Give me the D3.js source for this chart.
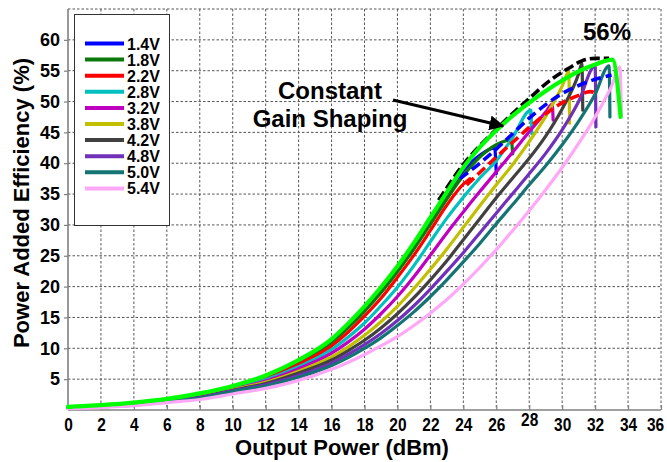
<!DOCTYPE html>
<html><head><meta charset="utf-8">
<script src="https://cdn.jsdelivr.net/npm/d3@7"></script>
<style>
body{margin:0;background:#fff}
svg{display:block}
text{font-family:"Liberation Sans",Arial,Helvetica,sans-serif;font-weight:bold;fill:#000}
</style>
</head><body>
<svg id="chart" width="667" height="462"></svg>
<script>
// ---- data ----
const xTicks = [0,2,4,6,8,10,12,14,16,18,20,22,24,26,28,30,32,34,36];
const yTicks = [5,10,15,20,25,30,35,40,45,50,55,60];
const legendLabels = ["1.4V","1.8V","2.2V","2.8V","3.2V","3.8V","4.2V","4.8V","5.0V","5.4V"];

// [Pout dBm, PAE %]
const s14 = [[0,0.5],[2,0.7],[4,1.1],[6,1.7],[8,2.6],[10,3.8],[12,5.5],[14,8.0],[16,11.3],[17,13.8],[18,16.6],[19,19.7],[20,23.1],[21,26.9],[22,31],[23,35],[24,38.8],[25,41.3],[25.9,42.5],[26.0,38.3]];
const s18 = [[0,0.5],[2,0.7],[4,1.1],[6,1.7],[8,2.5],[10,3.7],[12,5.3],[14,7.7],[16,10.9],[17,13.3],[18,16.0],[19,19.0],[20,22.4],[21,26.1],[22,30.1],[23,34.2],[24,38],[25,41],[26,43],[26.9,43.8],[27.0,41.5]];
const s22 = [[0,0.5],[2,0.7],[4,1.1],[6,1.7],[8,2.5],[10,3.6],[12,5.1],[14,7.4],[16,10.4],[17,12.6],[18,15.2],[19,18.1],[20,21.5],[21,25.1],[22,29.1],[23,33.2],[24,36.6],[24.4,37.5]];
const s28 = [[0,0.5],[2,0.7],[4,1.1],[6,1.6],[8,2.4],[10,3.5],[12,4.9],[14,7.0],[16,9.8],[17,11.8],[18,14.1],[19,16.9],[20,19.9],[21,23.4],[22,27.3],[23,31.1],[24,34.5],[25,37.6],[26,40.4],[27,44.2],[28.1,48.6],[28.15,44.8]];
const s32 = [[0,0.4],[2,0.6],[4,1.0],[6,1.6],[8,2.3],[10,3.4],[12,4.7],[14,6.7],[16,9.2],[17,11.0],[18,13.1],[19,15.6],[20,18.4],[21,21.6],[22,25.1],[23,28.7],[24,32.1],[25,35.4],[26,38.6],[27,41.8],[28,45.1],[29,48.3],[29.4,49.6],[29.45,47]];
const s38 = [[0,0.4],[2,0.6],[4,1.0],[6,1.5],[8,2.2],[10,3.3],[12,4.5],[14,6.3],[16,8.6],[17,10.2],[18,12.1],[19,14.3],[20,16.8],[21,19.7],[22,22.8],[23,26.1],[24,29.6],[25,33.1],[26,36.5],[27,39.8],[28,43.5],[29,47.6],[30,52.5],[30.4,54.8],[30.45,46.5]];
const s42 = [[0,0.4],[2,0.6],[4,0.9],[6,1.4],[8,2.1],[10,3.2],[12,4.3],[14,6.0],[16,8.1],[17,9.6],[18,11.3],[19,13.3],[20,15.6],[21,18.2],[22,21.1],[23,24.2],[24,27.6],[25,31],[26,34.4],[27,37.6],[28,40.8],[29,44.4],[30,48.8],[31,54.5],[31.2,56.2],[31.25,48.6]];
const s48 = [[0,0.3],[2,0.5],[4,0.9],[6,1.4],[8,2.0],[10,3.1],[12,4.1],[14,5.6],[16,7.6],[17,9.0],[18,10.6],[19,12.4],[20,14.5],[21,16.9],[22,19.6],[23,22.5],[24,25.5],[25,28.7],[26,31.9],[27,35.1],[28,38.3],[29,41.6],[30,45.4],[31,50.0],[32,55.8],[32.05,45.9]];
const s50 = [[0,0.3],[2,0.5],[4,0.8],[6,1.3],[8,1.9],[10,3.0],[12,3.9],[14,5.3],[16,7.2],[17,8.5],[18,10.0],[19,11.7],[20,13.7],[21,15.9],[22,18.4],[23,21.1],[24,24.0],[25,27.0],[26,30.2],[27,33.3],[28,36.5],[29,39.6],[30,43.0],[31,46.8],[32,51.2],[32.85,55.8],[32.9,47.5]];
const s54 = [[0,0.2],[2,0.4],[4,0.7],[6,1.2],[8,1.7],[10,2.6],[12,3.5],[14,4.8],[16,6.6],[17,7.7],[18,9.0],[19,10.4],[20,11.9],[21,13.7],[22,15.7],[23,17.9],[24,20.4],[25,23.1],[26,26],[27,29.1],[28,32.3],[29,35.7],[30,39.3],[31,43.2],[32,47.5],[33,52.5],[33.5,55.6],[33.6,47.8]];

// constant gain shaping envelope (bright green) and dashed traces
const envGreen = [[0,0.5],[2,0.8],[4,1.2],[6,1.8],[8,2.7],[10,3.9],[12,5.6],[14,8.1],[16,11.5],[17,14.0],[18,16.8],[19,19.9],[20,23.3],[21,27.1],[22,31.2],[23,35.3],[24,39.3],[25,42.6],[26,45.3],[27,47.7],[28,49.8],[29,51.7],[30,53.4],[31,54.9],[32,56.0],[33.05,56.8],[33.55,47.5]];
const dashBlack = [[22.5,34],[24.0,39.8],[26.0,45.5],[28.0,50.5],[29.3,53.5],[30.4,55.4],[31.2,56.6],[32.0,57],[32.85,57]];
const dashBlue = [[23.8,37.5],[25,40],[26,42.3],[27,44.8],[28,47.3],[29,49.5],[30,51.3],[31,52.6],[32,53.6],[33,54.3]];
const dashRed = [[24.2,36.5],[25,38.5],[26,41],[27,43.4],[28,45.8],[29,48],[30,49.8],[31,51],[31.7,51.6],[32.2,51.2]];

const seriesData = [s14,s18,s22,s28,s32,s38,s42,s48,s50,s54];
const seriesColors = ["#0000ff","#0a780a","#ff0000","#00c0c0","#c000c0","#c0c000","#404040","#7030b8","#147474","#ffa8f8"];

// ---- drawing ----
const svg = d3.select("#chart");
const x = d3.scaleLinear().domain([0,36]).range([68,661]);
const y = d3.scaleLinear().domain([0,65]).range([410,9]);

// grid
const grid = svg.append("g").attr("stroke","#555").attr("stroke-width",1).attr("stroke-dasharray","2.5,2");
grid.selectAll("line.v").data(xTicks.filter(d=>d>0)).enter().append("line")
  .attr("x1",d=>x(d)).attr("x2",d=>x(d)).attr("y1",y(65)).attr("y2",y(0));
grid.selectAll("line.h").data(yTicks.concat([65])).enter().append("line")
  .attr("x1",x(0)).attr("x2",x(36)).attr("y1",d=>y(d)).attr("y2",d=>y(d));

// axes
const yAxis = svg.append("g").attr("transform",`translate(${x(0)},0)`)
  .call(d3.axisLeft(y).tickValues(yTicks).tickSize(4).tickPadding(4));
const xAxis = svg.append("g").attr("transform",`translate(0,${y(0)})`)
  .call(d3.axisBottom(x).tickValues(xTicks).tickSize(-5).tickPadding(8));
[yAxis,xAxis].forEach(a=>{
  a.select(".domain").attr("stroke","#808080").attr("stroke-width",1.6);
  a.selectAll(".tick line").attr("stroke","#808080").attr("stroke-width",1.2);
  a.selectAll("text").attr("font-size","18px").attr("font-family","'Liberation Sans',Arial,sans-serif").attr("font-weight","bold").attr("fill","#000");
});
yAxis.select(".domain").attr("d",`M0,${y(65)}V${y(0)}`);
xAxis.select(".domain").attr("d",`M${x(0)},0H${x(36)}`);
xAxis.selectAll(".tick text")
  .attr("transform",d=> (d===28 ? "translate(0,-5) " : "") + (d===36 ? "translate(-6,0) " : "") + "scale(0.86,1)");

// curves
const line = d3.line().x(d=>x(d[0])).y(d=>y(d[1])).curve(d3.curveMonotoneX);
const curves = svg.append("g").attr("fill","none").attr("stroke-linejoin","round").attr("stroke-linecap","round");
seriesData.forEach((s,i)=>{
  curves.append("path").attr("d",line(s)).attr("stroke",seriesColors[i]).attr("stroke-width",3.2);
});
curves.append("path").attr("d",line(dashRed)).attr("stroke","#ff0000").attr("stroke-width",3.6).attr("stroke-dasharray","10,5").attr("stroke-linecap","butt");
curves.append("path").attr("d",line(dashBlue)).attr("stroke","#0000ff").attr("stroke-width",3.6).attr("stroke-dasharray","10,5").attr("stroke-linecap","butt");
curves.append("path").attr("d",line(dashBlack)).attr("stroke","#000").attr("stroke-width",3.6).attr("stroke-dasharray","10,4").attr("stroke-linecap","butt");
curves.append("path").attr("d",line(envGreen)).attr("stroke","#00ff00").attr("stroke-width",4.2);

// legend
const lg = svg.append("g");
lg.append("rect").attr("x",74.5).attr("y",14.5).attr("width",95).attr("height",211)
  .attr("fill","#fff").attr("stroke","#333").attr("stroke-width",1);
legendLabels.forEach((t,i)=>{
  const yy = 43.5 + i*16.1;
  lg.append("line").attr("x1",85).attr("x2",124).attr("y1",yy).attr("y2",yy)
    .attr("stroke",seriesColors[i]).attr("stroke-width",4);
  lg.append("text").attr("x",127).attr("y",yy+6).attr("font-size","16px").text(t);
});

// annotations
svg.append("text").attr("x",607).attr("y",40).attr("text-anchor","middle").attr("font-size","24px").text("56%");
svg.append("text").attr("x",330).attr("y",99).attr("text-anchor","middle").attr("font-size","24px").text("Constant");
svg.append("text").attr("x",330).attr("y",127).attr("text-anchor","middle").attr("font-size","24px").text("Gain Shaping");
svg.append("defs").append("marker").attr("id","ah").attr("viewBox","0 0 10 10").attr("refX",9).attr("refY",5)
  .attr("markerWidth",5).attr("markerHeight",5).attr("orient","auto")
  .append("path").attr("d","M0,0L10,5L0,10Z").attr("fill","#000");
svg.append("line").attr("x1",393).attr("y1",100).attr("x2",503).attr("y2",126)
  .attr("stroke","#000").attr("stroke-width",3).attr("marker-end","url(#ah)");

// axis titles
svg.append("text").attr("x",342).attr("y",455).attr("text-anchor","middle").attr("font-size","22px").text("Output Power (dBm)");
svg.append("text").attr("transform","translate(29,203) rotate(-90)").attr("text-anchor","middle").attr("font-size","22px").text("Power Added Efficiency (%)");
</script>
</body></html>
